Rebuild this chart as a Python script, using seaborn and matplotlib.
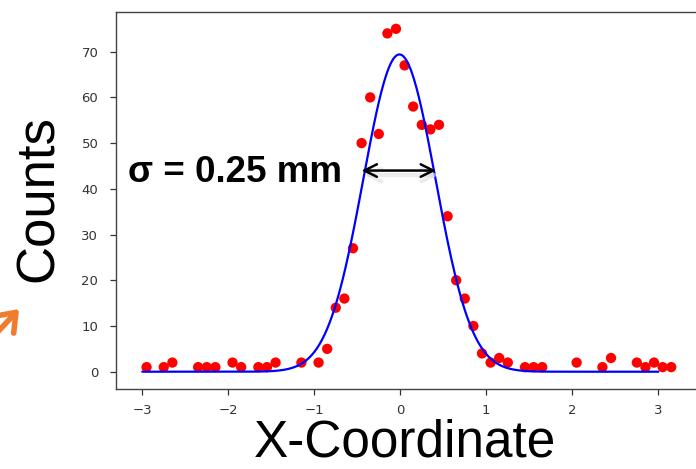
import numpy as np
import pandas as pd
import matplotlib
matplotlib.use("Agg")
import matplotlib.pyplot as plt
import seaborn as sns
from matplotlib.patches import FancyArrowPatch

# ---- data ----
x_pos = [-2.95, -2.75, -2.65, -2.35, -2.25, -2.15, -1.95, -1.85, -1.65, -1.55,
         -1.45, -1.15, -0.95, -0.85, -0.75, -0.65, -0.55, -0.45, -0.35, -0.25,
         -0.15, -0.05, 0.05, 0.15, 0.25, 0.35, 0.45, 0.55, 0.65, 0.75,
         0.85, 0.95, 1.05, 1.15, 1.25, 1.45, 1.55, 1.65, 2.05, 2.35,
         2.45, 2.75, 2.85, 2.95, 3.05, 3.15]
counts = [1, 1, 2, 1, 1, 1, 2, 1, 1, 1,
          2, 2, 2, 5, 14, 16, 27, 50, 60, 52,
          74, 75, 67, 58, 54, 53, 54, 34, 20, 16,
          10, 4, 2, 3, 2, 1, 1, 1, 2, 1,
          3, 2, 1, 2, 1, 1]

# Gaussian fit parameters
fit_amplitude = 69.4
fit_center = -0.01
fit_sigma = 0.42
fit_range = (-3.0, 3.0)

x_ticks = [-3, -2, -1, 0, 1, 2, 3]
y_ticks = [0, 10, 20, 30, 40, 50, 60, 70]
sigma_label = "σ = 0.25 mm"

# ---- build ----
sns.set_style("ticks")
plt.rcParams['font.family'] = ['DejaVu Sans']

fig = plt.figure(figsize=(6.96, 4.69), dpi=100)
ax = fig.add_axes([0.1662, 0.1699, 0.8427, 0.8052])

pts = pd.DataFrame({"x": x_pos, "counts": counts})
xf = np.linspace(fit_range[0], fit_range[1], 400)
fit = pd.DataFrame({"x": xf,
                    "y": fit_amplitude * np.exp(-(xf - fit_center) ** 2 / (2 * fit_sigma ** 2))})

sns.scatterplot(data=pts, x="x", y="counts", ax=ax, color="#ff0000",
                s=55, edgecolor="none", linewidth=0, zorder=2)
sns.lineplot(data=fit, x="x", y="y", ax=ax, color="#0000ff", lw=1.6, zorder=3)

ax.set_xlim(-3.309, 3.51)
ax.set_ylim(-3.85, 78.75)
ax.set_xticks(x_ticks)
ax.set_yticks(y_ticks)
ax.set_xticklabels([f"{t}".replace("-", "\u2212") for t in x_ticks])
ax.tick_params(axis="both", labelsize=9.5, colors="#333333", length=4.5, width=0.9)
ax.tick_params(axis="y", pad=8)
ax.tick_params(axis="x", pad=6)
for sp in ax.spines.values():
    sp.set_color("#444444")
    sp.set_linewidth(1.0)
ax.set_xlabel("")
ax.set_ylabel("")

# big axis labels (slide overlay)
fig.text(405 / 696, 1 - 467.5 / 469, "X-Coordinate", ha="center", va="bottom",
         fontsize=37, family=["Liberation Sans", "DejaVu Sans"], color="black")
fig.text(39 / 696, 1 - 198.5 / 469, "Counts", ha="center", va="center", rotation=90,
         fontsize=38, family=["Liberation Sans", "DejaVu Sans"], color="black")

# sigma annotation
fig.text(128 / 696, 1 - 182.3 / 469, sigma_label, ha="left", va="baseline",
         fontsize=26.5, fontweight="bold", family=["Liberation Sans", "DejaVu Sans"],
         color="black")

y_arrow = 44.0
x_left, x_right = -0.45, 0.415
# soft shadow
ax.annotate("", xy=(x_left + 0.03, y_arrow - 1.0), xytext=(x_right + 0.03, y_arrow - 1.0),
            arrowprops=dict(arrowstyle="<->,head_length=0.9,head_width=0.45",
                            color="#d5d5d5", lw=3, alpha=0.45, shrinkA=0, shrinkB=0),
            zorder=3)
ax.annotate("", xy=(x_left, y_arrow), xytext=(x_right, y_arrow),
            arrowprops=dict(arrowstyle="<->,head_length=0.9,head_width=0.45",
                            color="black", lw=1.8, shrinkA=0, shrinkB=0),
            zorder=4)

# orange partial arrow at left edge (slide decoration)
arr = FancyArrowPatch((-8 / 696, 1 - 338 / 469), (21 / 696, 1 - 307 / 469),
                      transform=fig.transFigure,
                      arrowstyle="->,head_length=4,head_width=3",
                      color="#f07c30", lw=4, mutation_scale=3, clip_on=False)
fig.patches.append(arr)

fig.savefig("out.png", dpi=100)
